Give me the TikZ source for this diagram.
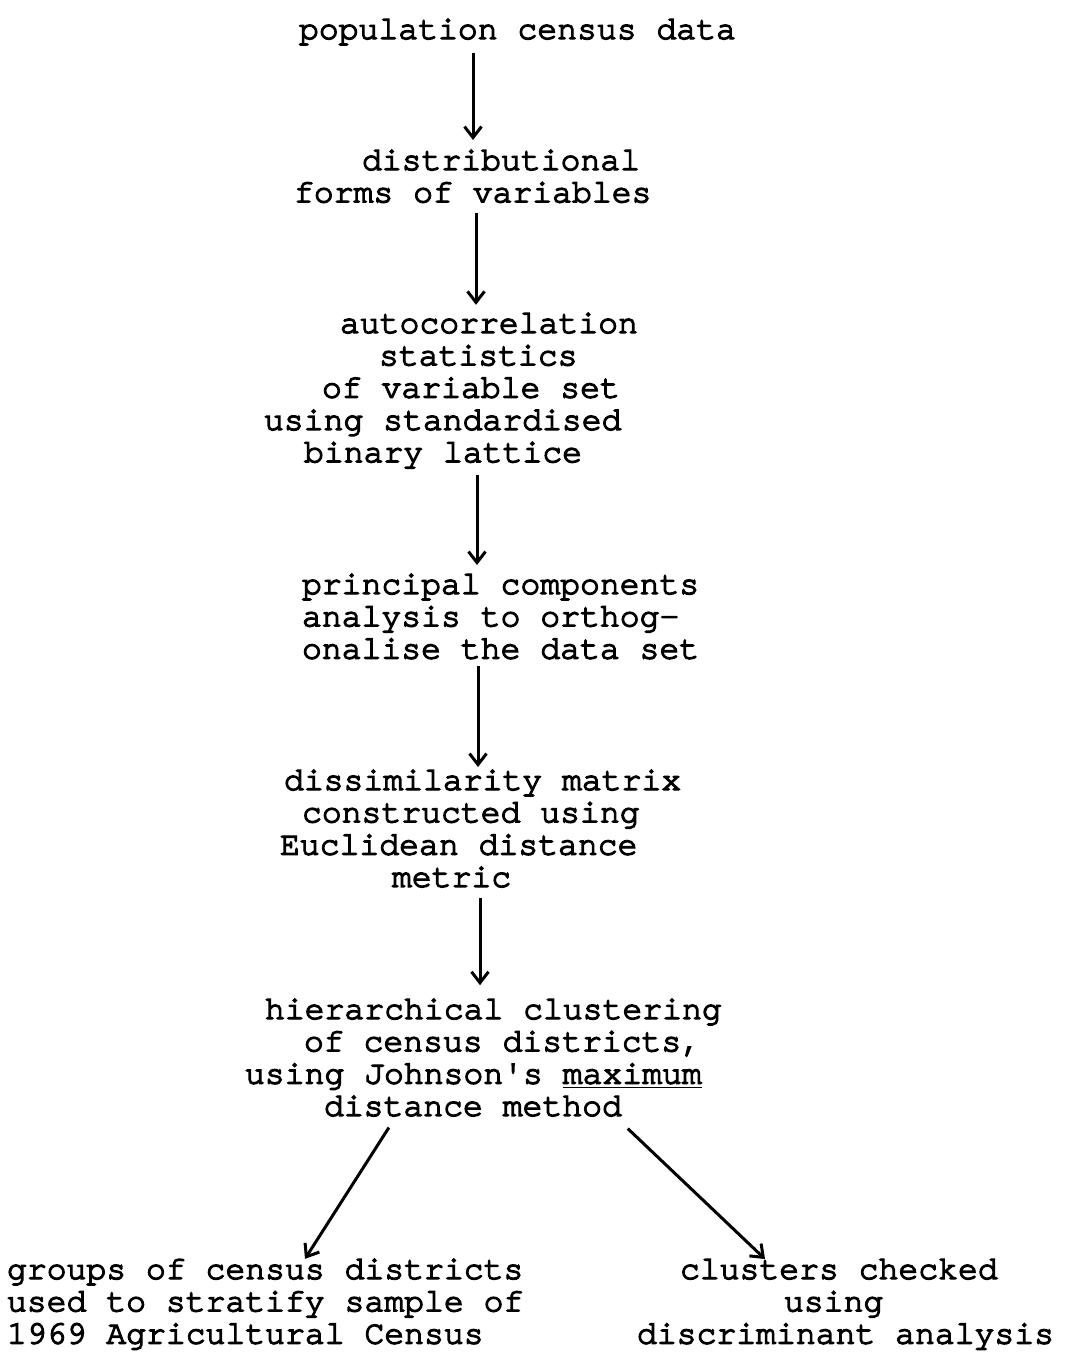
\documentclass[tikz,border=0pt]{standalone}
\usepackage{fontspec}
\newfontfamily\tw{TeX Gyre Cursor}[RawFeature={embolden=4}]
\usetikzlibrary{arrows.meta,calc}
\begin{document}
\begin{tikzpicture}[x=0.5pt,y=-0.5pt,
  txt/.style={anchor=base west,inner sep=0pt,outer sep=0pt,align=left,text width=300pt,
    font=\tw\fontsize{16.55}{16.15}\selectfont,
    execute at begin node={\spaceskip=9.93pt\relax\xspaceskip=9.93pt\relax}},
  arr/.style={line width=1.5pt,-{Straight Barb[length=5.5pt,width=8.5pt]}}]
\fill[white] (0,0) rectangle (1066,1371);
\useasboundingbox (0,0) rectangle (1066,1371);

\node[txt] (n1) at (299,39) {population census data};
\node[txt] (n2) at (294,170) {\hspace*{34pt}distributional\\forms of variables};
\node[txt] (n3) at (264,333) {\hspace*{38pt}autocorrelation\\\hspace*{57.5pt}statistics\\\hspace*{29pt}of variable set\\using standardised\\\hspace*{20pt}binary lattice};
\node[txt] (n4) at (302,594) {principal components\\analysis to orthog-\\onalise the data set};
\node[txt] (n5) at (280,790) {\hspace*{2pt}dissimilarity matrix\\\hspace*{11pt}constructed using\\Euclidean distance\\\hspace*{56pt}metric};
\node[txt] (n6) at (245,1019) {\hspace*{10pt}hierarchical clustering\\\hspace*{29.5pt}of census districts,\\using Johnson's \underline{maximum}\\\hspace*{39.5pt}distance method};
\node[txt] (nl) at (7,1279) {groups of census districts\\used to stratify sample of\\1969 Agricultural Census};
\node[txt] (nr) at (637,1279) {\hspace*{21.5pt}clusters checked\\\hspace*{73.5pt}using\\discriminant analysis};

\draw[arr,shorten <=3.7pt,shorten >=4.9pt] (n1.south -| 473,0) -- (n2.north -| 473,0);
\draw[arr,shorten <=5pt,shorten >=4pt] (n2.south -| 476,0) -- (n3.north -| 476,0);
\draw[arr,shorten <=3.2pt,shorten >=4.4pt] (n3.south -| 477,0) -- (n4.north -| 477,0);
\draw[arr,shorten <=3.5pt,shorten >=1.4pt] (n4.south -| 478,0) -- (n5.north -| 478,0);
\draw[arr,shorten <=5.5pt,shorten >=6.8pt] (n5.south -| 480,0) -- (n6.north -| 480,0);
\draw[arr,shorten <=6.6pt] (n6.south -| 396,0) -- (nl.north -| 305,0);
\draw[arr,shorten <=8.8pt] (n6.south -| 615,0) -- (nr.north -| 765,0);
\end{tikzpicture}
\end{document}
